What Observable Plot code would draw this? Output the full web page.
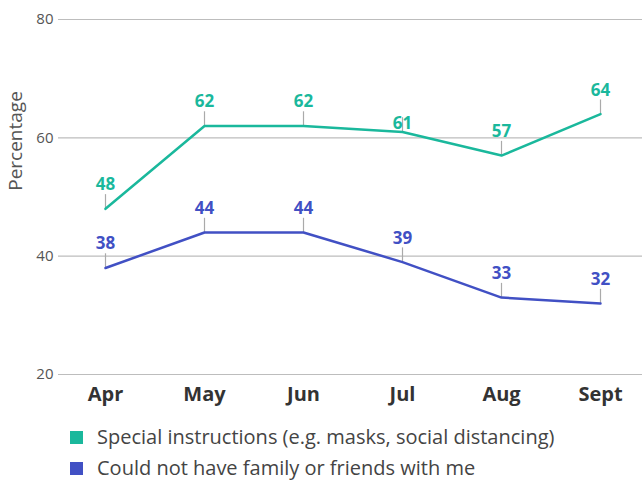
<!DOCTYPE html>
<html>
<head>
<meta charset="utf-8">
<script src="https://cdn.jsdelivr.net/npm/d3@7"></script>
<script src="https://cdn.jsdelivr.net/npm/@observablehq/plot@0.6"></script>
<style>
  html, body { margin: 0; padding: 0; background: #fff; }
  body { width: 642px; height: 480px; overflow: hidden; font-family: "Open Sans", Lato, sans-serif; }
  #chart svg { display: block; }
  .legend { position: relative; height: 70px; }
  .row { position: absolute; left: 70px; display: flex; align-items: center; font-size: 20px; color: #444; line-height: 24px; }
  .sw { width: 13px; height: 13px; margin-right: 14px; }
</style>
</head>
<body>
<div id="chart"></div>
<div class="legend" id="legend"></div>
<script>
const months = ["Apr", "May", "Jun", "Jul", "Aug", "Sept"];
const seriesNames = ["Special instructions (e.g. masks, social distancing)", "Could not have family or friends with me"];
const specialInstructions = [48, 62, 62, 61, 57, 64];
const noFamily = [38, 44, 44, 39, 33, 32];
const yTicks = [20, 40, 60, 80];
const colors = ["#1ab89c", "#4150c4"];

const data = [];
[specialInstructions, noFamily].forEach((vals, si) => {
  vals.forEach((v, i) => data.push({month: months[i], value: v, series: seriesNames[si], si}));
});
const isClose = d => d.si === 0 && d.month === "Jul";

const plot = Plot.plot({
  width: 642,
  height: 410,
  marginLeft: 58,
  marginRight: 0,
  marginTop: 19,
  marginBottom: 36,
  style: {fontFamily: "'Open Sans', Lato, sans-serif", background: "#fff"},
  x: {type: "point", domain: months, range: [105, 600], padding: 0, label: null},
  y: {domain: [20, 80], label: null},
  color: {domain: seriesNames, range: colors},
  marks: [
    Plot.ruleY(yTicks, {stroke: "#bdbdbd", strokeWidth: 1.2}),
    Plot.axisY({ticks: yTicks, tickSize: 0, tickPadding: 5, fontSize: 15, color: "#555", label: null}),
    Plot.axisX({tickSize: 0, tickPadding: 12, fontSize: 20, fontWeight: "bold", color: "#333", label: null}),
    Plot.text(["Percentage"], {frameAnchor: "left", dx: -43, dy: -56, rotate: -90, fontSize: 19, fill: "#555", textAnchor: "middle"}),
    Plot.ruleX(data, {x: "month", y1: "value", y2: d => d.value + 2.4, stroke: "#aaaaaa", strokeWidth: 1.2}),
    Plot.line(data, {x: "month", y: "value", z: "series", stroke: "series", strokeWidth: 2.5}),
    Plot.text(data.filter(d => !isClose(d)), {x: "month", y: "value", text: d => String(d.value), fill: "series", dy: -24, fontSize: 17, fontWeight: "bold"}),
    Plot.text(data.filter(isClose), {x: "month", y: "value", text: d => String(d.value), fill: "series", dy: -8, fontSize: 17, fontWeight: "bold"})
  ]
});
document.getElementById("chart").appendChild(plot);

const legend = document.getElementById("legend");
seriesNames.forEach((name, i) => {
  const row = document.createElement("div");
  row.className = "row";
  row.style.top = (15 + i * 31) + "px";
  const sw = document.createElement("div");
  sw.className = "sw";
  sw.style.background = colors[i];
  const t = document.createElement("span");
  t.textContent = name;
  row.appendChild(sw);
  row.appendChild(t);
  legend.appendChild(row);
});
</script>
</body>
</html>
